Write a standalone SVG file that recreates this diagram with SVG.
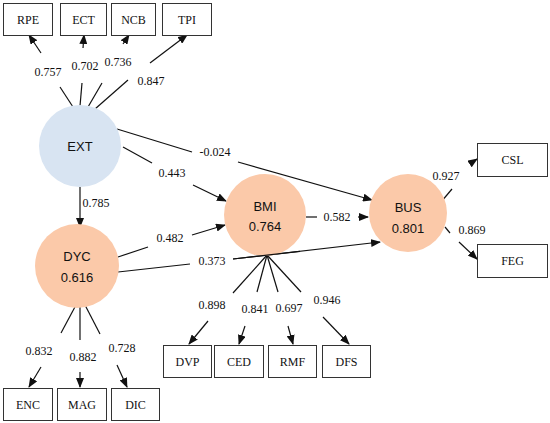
<svg xmlns="http://www.w3.org/2000/svg" width="550" height="423" viewBox="0 0 550 423">
<style>
.box{fill:#fff;stroke:#333;stroke-width:1}
.bt{font-family:"Liberation Serif",serif;font-size:12px;fill:#111;text-anchor:middle}
.lb{font-family:"Liberation Serif",serif;font-size:12px;fill:#111;text-anchor:middle}
.ct{font-family:"Liberation Sans",Arial,sans-serif;font-size:13px;fill:#111;text-anchor:middle}
.ln{stroke:#111;stroke-width:1.2;fill:none}
.ar{marker-end:url(#ah)}
.blue{fill:#d8e4f2}
.orange{fill:#fbc9a9}
</style>
<defs>
<marker id="ah" markerWidth="10" markerHeight="8" refX="9" refY="4" orient="auto" markerUnits="userSpaceOnUse">
<path d="M0,0 L10,4 L0,8 Z" fill="#111"/>
</marker>
</defs>
<g id="connectors">
<line class="ln" x1="73" y1="107" x2="60" y2="87"/>
<line class="ln ar" x1="41" y1="53" x2="29" y2="35"/>
<line class="ln" x1="80" y1="106" x2="82" y2="83"/>
<line class="ln ar" x1="83" y1="48" x2="84" y2="35"/>
<line class="ln" x1="88" y1="107" x2="102" y2="83"/>
<line class="ln ar" x1="123" y1="44" x2="129" y2="35"/>
<line class="ln" x1="95" y1="109" x2="128" y2="80"/>
<line class="ln ar" x1="150" y1="63" x2="187" y2="35"/>
<line class="ln" x1="117" y1="129" x2="192" y2="152"/>
<line class="ln ar" x1="238" y1="162" x2="372" y2="200"/>
<line class="ln" x1="123" y1="147" x2="152" y2="163"/>
<line class="ln ar" x1="193" y1="185" x2="226" y2="201"/>
<line class="ln ar" x1="80" y1="187" x2="80" y2="227"/>
<line class="ln" x1="118" y1="257" x2="148" y2="247"/>
<line class="ln ar" x1="192" y1="235" x2="225" y2="225"/>
<line class="ln" x1="118" y1="272" x2="190" y2="264"/>
<line class="ln ar" x1="233" y1="259" x2="380" y2="242"/>
<line class="ln" x1="306" y1="217" x2="317" y2="217"/>
<line class="ln ar" x1="358" y1="217" x2="368" y2="217"/>
<line class="ln" x1="441" y1="202" x2="452" y2="189"/>
<line class="ln ar" x1="471" y1="163" x2="477" y2="159"/>
<line class="ln" x1="445" y1="227" x2="450" y2="233"/>
<line class="ln ar" x1="459" y1="242" x2="477" y2="259"/>
<line class="ln" x1="267" y1="255" x2="233" y2="293"/>
<line class="ln ar" x1="208" y1="321" x2="189" y2="344"/>
<line class="ln" x1="267" y1="255" x2="257" y2="292"/>
<line class="ln ar" x1="245" y1="326" x2="239" y2="344"/>
<line class="ln" x1="267" y1="255" x2="278" y2="292"/>
<line class="ln ar" x1="288" y1="326" x2="293" y2="344"/>
<line class="ln" x1="267" y1="255" x2="301" y2="292"/>
<line class="ln ar" x1="323" y1="317" x2="349" y2="344"/>
<line class="ln" x1="76" y1="305" x2="61" y2="333"/>
<line class="ln ar" x1="41" y1="367" x2="29" y2="387"/>
<line class="ln" x1="80" y1="305" x2="80" y2="340"/>
<line class="ln ar" x1="80" y1="372" x2="80" y2="387"/>
<line class="ln" x1="85" y1="305" x2="100" y2="334"/>
<line class="ln ar" x1="117" y1="365" x2="127" y2="387"/>
</g>
<g id="labels">
<text class="lb" x="48" y="76">0.757</text>
<text class="lb" x="85" y="70">0.702</text>
<text class="lb" x="118" y="66">0.736</text>
<text class="lb" x="151" y="85">0.847</text>
<text class="lb" x="215" y="156">-0.024</text>
<text class="lb" x="172" y="177">0.443</text>
<text class="lb" x="96" y="207">0.785</text>
<text class="lb" x="170" y="242">0.482</text>
<text class="lb" x="212" y="265">0.373</text>
<text class="lb" x="337" y="221">0.582</text>
<text class="lb" x="446" y="180">0.927</text>
<text class="lb" x="472" y="234">0.869</text>
<text class="lb" x="212" y="309">0.898</text>
<text class="lb" x="255" y="313">0.841</text>
<text class="lb" x="289" y="312">0.697</text>
<text class="lb" x="327" y="304">0.946</text>
<text class="lb" x="39" y="355">0.832</text>
<text class="lb" x="83" y="361">0.882</text>
<text class="lb" x="122" y="352">0.728</text>
</g>
<g id="EXT"><circle class="blue" cx="80" cy="146" r="41"/><text class="ct" x="80" y="151">EXT</text></g>
<g id="DYC"><circle class="orange" cx="77" cy="266" r="42"/><text class="ct" x="77" y="261">DYC</text><text class="ct" x="77" y="282">0.616</text></g>
<g id="BMI"><circle class="orange" cx="265" cy="215" r="41"/><text class="ct" x="265" y="211">BMI</text><text class="ct" x="265" y="231">0.764</text></g>
<g id="BUS"><circle class="orange" cx="408" cy="213" r="39"/><text class="ct" x="408" y="212">BUS</text><text class="ct" x="408" y="233">0.801</text></g>
<line class="ln" x1="233" y1="259" x2="300" y2="251.3"/>
<g id="RPE"><rect class="box" x="3.5" y="3.5" width="49" height="32"/><text class="bt" x="28" y="24">RPE</text></g>
<g id="ECT"><rect class="box" x="60.5" y="3.5" width="46" height="32"/><text class="bt" x="83.5" y="24">ECT</text></g>
<g id="NCB"><rect class="box" x="111.5" y="3.5" width="44" height="32"/><text class="bt" x="133.5" y="24">NCB</text></g>
<g id="TPI"><rect class="box" x="162.5" y="3.5" width="49" height="32"/><text class="bt" x="187" y="24">TPI</text></g>
<g id="CSL"><rect class="box" x="477.5" y="143.5" width="70" height="33"/><text class="bt" x="512.5" y="164">CSL</text></g>
<g id="FEG"><rect class="box" x="477.5" y="244.5" width="70" height="33"/><text class="bt" x="512.5" y="265">FEG</text></g>
<g id="DVP"><rect class="box" x="163.5" y="345.5" width="48" height="32"/><text class="bt" x="187.5" y="366">DVP</text></g>
<g id="CED"><rect class="box" x="214.5" y="345.5" width="49" height="32"/><text class="bt" x="239" y="366">CED</text></g>
<g id="RMF"><rect class="box" x="268.5" y="345.5" width="48" height="32"/><text class="bt" x="292.5" y="366">RMF</text></g>
<g id="DFS"><rect class="box" x="322.5" y="345.5" width="48" height="32"/><text class="bt" x="346.5" y="366">DFS</text></g>
<g id="ENC"><rect class="box" x="3.5" y="388.5" width="49" height="32"/><text class="bt" x="28" y="409">ENC</text></g>
<g id="MAG"><rect class="box" x="57.5" y="388.5" width="49" height="32"/><text class="bt" x="82" y="409">MAG</text></g>
<g id="DIC"><rect class="box" x="111.5" y="388.5" width="48" height="32"/><text class="bt" x="135.5" y="409">DIC</text></g>
</svg>
